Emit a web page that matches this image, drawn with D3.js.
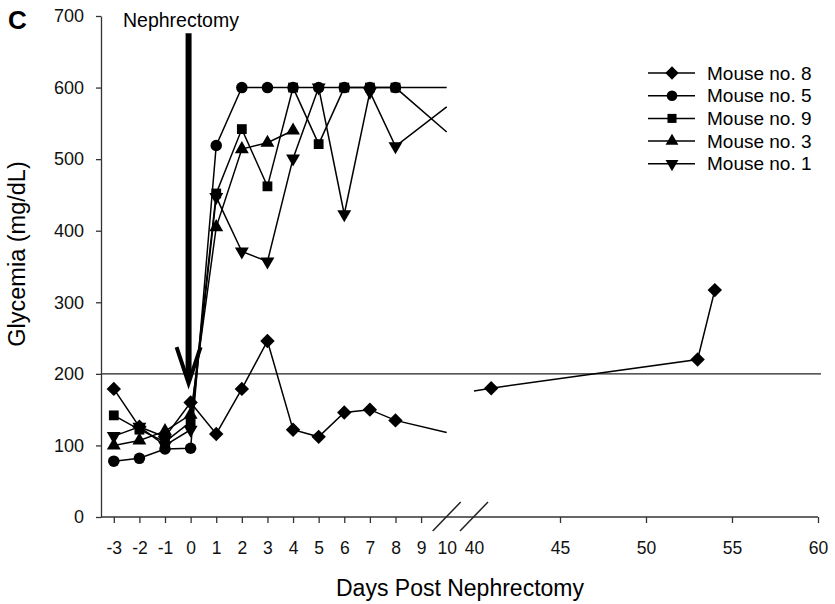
<!DOCTYPE html>
<html>
<head>
<meta charset="utf-8">
<script src="https://cdn.jsdelivr.net/npm/d3@7"></script>
<style>
  body { margin: 0; background: #fff; }
  svg { display: block; font-family: "Liberation Sans", Arial, Helvetica, sans-serif; }
  .axis text { fill: #111; }
  .axis line, .axis path { stroke: #333; stroke-width: 1.3; }
</style>
</head>
<body>
<div id="chart"></div>
<script>
var width = 835,
    height = 604;

// days shown on the left part of the broken axis
var days = [-3, -2, -1, 0, 1, 2, 3, 4, 5, 6, 7, 8];

// glycemia (mg/dL) per mouse, one value per day above (null = no reading)
var mouse8 = [179, 126, 112, 160, 116, 179, 246, 122, 112, 146, 150, 135];
var mouse5 = [78, 82, 95, 96, 519, 600, 600, 600, 600, 600, 600, 600];
var mouse9 = [142, 122, 105, 133, 452, 542, 462, 600, 521, 600, 600, 600];
var mouse3 = [100, 107, 120, 143, 405, 514, 523, 540, null, null, null, null];
var mouse1 = [113, 126, 100, 122, 447, 371, 357, 501, 600, 423, 594, 518];

// where each line is cut by the axis break (day 10)
var breakValues = [118, 538, 600, null, 573];

// mouse no. 8 after the break
var lateDays = [41, 53, 54];
var lateMouse8 = [180, 220, 317];
var lateStart = 176;   // value where the line re-enters at day 40

var names = ["Mouse no. 8", "Mouse no. 5", "Mouse no. 9", "Mouse no. 3", "Mouse no. 1"];
var shapes = ["diamond", "circle", "square", "triangle", "triangleDown"];

var yTicks = [0, 100, 200, 300, 400, 500, 600, 700];
var leftTicks = [-3, -2, -1, 0, 1, 2, 3, 4, 5, 6, 7, 8, 9, 10];
var rightTicks = [40, 45, 50, 55, 60];

var threshold = 200;
var nephrectomy = { day: -0.08, from: 676, to: 187 };

var series = [mouse8, mouse5, mouse9, mouse3, mouse1];

var y = d3.scaleLinear().domain([0, 700]).range([517, 16]);
var xL = d3.scaleLinear().domain([-3.5, 10]).range([101, 446.7]);
var xR = d3.scaleLinear().domain([40, 60]).range([474, 818]);

var svg = d3.select("#chart").append("svg")
    .attr("width", width)
    .attr("height", height);

// marker shapes
function marker(sel, shape, scale) {
  scale = scale || 1;
  var sym = d3.symbol();
  if (shape == "diamond") sym.type(d3.symbolSquare).size(104 * scale);
  else if (shape == "circle") sym.type(d3.symbolCircle).size(104 * scale);
  else if (shape == "square") sym.type(d3.symbolSquare).size(96 * scale);
  else sym.type(d3.symbolTriangle).size(84 * scale);
  sel.attr("d", sym)
     .attr("fill", "#000");
  if (shape == "diamond") sel.attr("transform", function() { return d3.select(this).attr("transform") + " rotate(45)"; });
  if (shape == "triangleDown") sel.attr("transform", function() { return d3.select(this).attr("transform") + " rotate(180)"; });
}

var plain = function(d) { return String(d); };

// threshold line
svg.append("line")
    .attr("x1", xL.range()[0]).attr("x2", xR.range()[1] + 3)
    .attr("y1", y(threshold)).attr("y2", y(threshold))
    .attr("stroke", "#222").attr("stroke-width", 1.4);

// y axis
svg.append("g")
    .attr("class", "axis")
    .attr("transform", "translate(" + xL.range()[0] + ",0)")
    .call(d3.axisLeft(y).tickValues(yTicks).tickFormat(plain).tickSize(5).tickSizeOuter(0).tickPadding(12))
    .selectAll("text").style("font-size", "18px");

// x axes
var gl = svg.append("g")
    .attr("class", "axis")
    .attr("transform", "translate(0," + y(0) + ")")
    .call(d3.axisBottom(xL).tickValues(leftTicks).tickFormat(plain).tickSize(6).tickPadding(19));
var gr = svg.append("g")
    .attr("class", "axis")
    .attr("transform", "translate(0," + y(0) + ")")
    .call(d3.axisBottom(xR).tickValues(rightTicks).tickFormat(plain).tickSize(6).tickPadding(19));
gl.select(".domain").remove();
gr.select(".domain").remove();
gl.selectAll(".tick").filter(function(d) { return d == 10; }).select("line").remove();
gr.selectAll(".tick").filter(function(d) { return d == 40; }).select("line").remove();
gl.selectAll(".tick text").style("font-size", "17.5px");
gr.selectAll(".tick text").style("font-size", "17.5px");

svg.append("line")
    .attr("x1", xL.range()[0]).attr("x2", xR.range()[1])
    .attr("y1", y(0)).attr("y2", y(0))
    .attr("stroke", "#333").attr("stroke-width", 1.3);

// break marks
[xL(10), xR(40)].forEach(function(cx) {
  svg.append("line")
      .attr("x1", cx - 14).attr("y1", y(0) + 14)
      .attr("x2", cx + 14).attr("y2", y(0) - 15)
      .attr("stroke", "#222").attr("stroke-width", 1.5);
});

// lines
var line = d3.line()
    .defined(function(d) { return d[1] != null; })
    .x(function(d) { return d[0]; })
    .y(function(d) { return y(d[1]); });

series.forEach(function(vals, i) {
  var pts = days.map(function(d, j) { return [xL(d), vals[j]]; });
  var last = days.length - 1;
  while (vals[last] == null) last--;
  if (breakValues[i] != null) pts.splice(last + 1, 0, [xL(10), breakValues[i]]);
  svg.append("path")
      .attr("d", line(pts))
      .attr("fill", "none")
      .attr("stroke", "#000")
      .attr("stroke-width", 1.5);
});

var late = [[xR(40), lateStart]].concat(lateDays.map(function(d, j) { return [xR(d), lateMouse8[j]]; }));
svg.append("path")
    .attr("d", line(late))
    .attr("fill", "none")
    .attr("stroke", "#000")
    .attr("stroke-width", 1.5);

// markers, drawn last series first so mouse 8 sits on top
d3.range(series.length - 1, -1, -1).forEach(function(i) {
  var vals = series[i];
  days.forEach(function(d, j) {
    if (vals[j] == null) return;
    svg.append("path")
        .attr("transform", "translate(" + xL(d) + "," + y(vals[j]) + ")")
        .call(marker, shapes[i]);
  });
});
lateDays.forEach(function(d, j) {
  svg.append("path")
      .attr("transform", "translate(" + xR(d) + "," + y(lateMouse8[j]) + ")")
      .call(marker, "diamond");
});

// nephrectomy arrow
var arrowX = xL(nephrectomy.day),
    arrowTop = y(nephrectomy.from),
    arrowTip = y(nephrectomy.to);
svg.append("line")
    .attr("x1", arrowX).attr("x2", arrowX)
    .attr("y1", arrowTop).attr("y2", arrowTip - 4)
    .attr("stroke", "#000").attr("stroke-width", 6);
svg.append("path")
    .attr("d", "M" + (arrowX - 12) + "," + (arrowTip - 36) + "L" + arrowX + "," + arrowTip + "L" + (arrowX + 12) + "," + (arrowTip - 36))
    .attr("fill", "none")
    .attr("stroke", "#000")
    .attr("stroke-width", 4)
    .attr("stroke-linejoin", "miter");
svg.append("text")
    .attr("x", 123).attr("y", 27)
    .style("font-size", "19.5px")
    .text("Nephrectomy");

// legend
var legend = svg.append("g").attr("transform", "translate(648,73)");
names.forEach(function(n, i) {
  var g = legend.append("g").attr("transform", "translate(0," + (i * 22.7) + ")");
  g.append("line")
      .attr("x1", 0).attr("x2", 47)
      .attr("stroke", "#000").attr("stroke-width", 1.5);
  g.append("path")
      .attr("transform", "translate(24,0)")
      .call(marker, shapes[i], 0.85);
  g.append("text")
      .attr("x", 59).attr("dy", "0.35em")
      .style("font-size", "19px")
      .text(n);
});

// axis titles
svg.append("text")
    .attr("x", 460).attr("y", 596)
    .attr("text-anchor", "middle")
    .style("font-size", "23px")
    .text("Days Post Nephrectomy");
svg.append("text")
    .attr("transform", "translate(25,254) rotate(-90)")
    .attr("text-anchor", "middle")
    .style("font-size", "23.5px")
    .text("Glycemia (mg/dL)");

// panel letter
svg.append("text")
    .attr("x", 8).attr("y", 29)
    .style("font-size", "26px")
    .style("font-weight", "bold")
    .text("C");
</script>
</body>
</html>
